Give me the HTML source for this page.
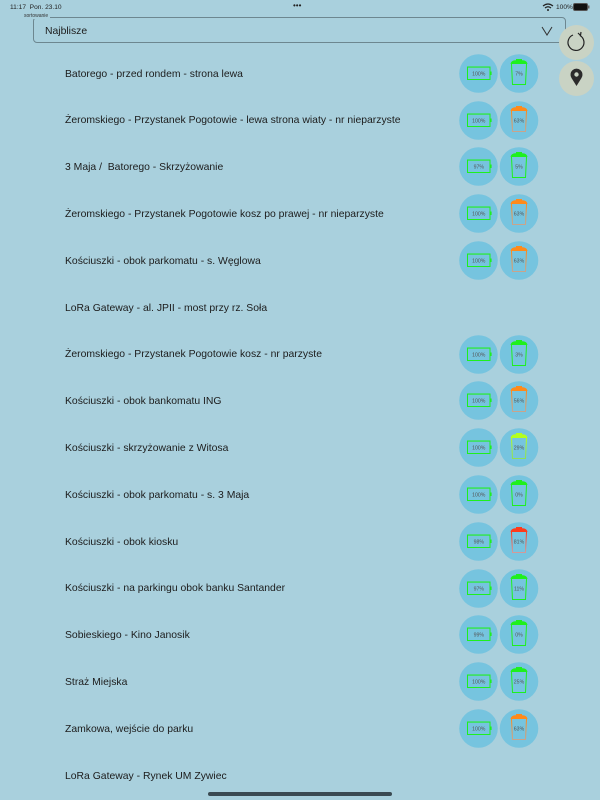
<!DOCTYPE html>
<html><head><meta charset="utf-8">
<style>
html,body{margin:0;padding:0}
body{width:600px;height:800px;background:#a9d0dd;position:relative;overflow:hidden;font-family:"Liberation Sans","DejaVu Sans",sans-serif;color:#1c1c1c}
.st{position:absolute;top:3.5px;font-size:6.6px;color:#222}
.row{position:absolute;left:65px;font-size:10.4px;line-height:12px;white-space:nowrap}
.dd{position:absolute;left:33px;top:17px;width:533px;height:26px;border:1px solid #6d8790;border-radius:4px;box-sizing:border-box}
.lbl{position:absolute;left:22px;top:12.5px;font-size:5px;color:#333;background:#a9d0dd;padding:0 2px}
.btn{position:absolute;width:35px;height:35px;border-radius:50%;background:#c9d3c4}
.home{position:absolute;left:208px;top:792px;width:184px;height:4px;border-radius:2px;background:#3a4a52}
svg{position:absolute}
</style></head><body>
<div class="st" style="left:10px">11:17&nbsp;&nbsp;Pon. 23.10</div>
<div class="st" style="left:293px;font-size:8px;top:1px;letter-spacing:0px">•••</div>
<div class="st" style="left:556px">100%</div>
<svg style="left:542px;top:3px" width="12" height="8" viewBox="0 0 12 8"><path d="M1 3 Q6 -1 11 3" stroke="#222" stroke-width="1.2" fill="none"/><path d="M3 5 Q6 2.5 9 5" stroke="#222" stroke-width="1.2" fill="none"/><circle cx="6" cy="7" r="1" fill="#222"/></svg>
<svg style="left:573px;top:3px" width="18" height="8" viewBox="0 0 18 8"><rect x="0.5" y="0.5" width="14" height="7" rx="1.5" fill="#111" stroke="#555"/><rect x="15" y="2.5" width="1.5" height="3" fill="#666"/></svg>

<div class="dd"></div>
<div class="lbl">sortowanie</div>
<div class="row" style="left:45px;top:25.5px">Najblisze</div>
<svg style="left:541px;top:26px" width="12" height="10" viewBox="0 0 12 10"><path d="M1 1 L6 9 L11 1" stroke="#333" stroke-width="1" fill="none"/></svg>

<div class="btn" style="left:559px;top:25px"></div>
<svg style="left:559px;top:25px" width="35" height="35" viewBox="0 0 35 35"><path d="M21 10.5 A8 8 0 1 1 14 10" stroke="#222" stroke-width="1.2" fill="none"/><path d="M19 8 L21.5 10.5 L22 7" stroke="#222" stroke-width="1.2" fill="none"/></svg>
<div class="btn" style="left:559px;top:61px"></div>
<svg style="left:559px;top:61px" width="35" height="35" viewBox="0 0 35 35"><path d="M17.5 25 L12.5 17 A6 6 0 1 1 22.5 17 Z" fill="#2b2b2b"/><circle cx="17.5" cy="13.5" r="2.2" fill="#c9d3c4"/></svg>

<div id="list"></div>
<div class="home"></div>

<script>
var data=[
["Batorego - przed rondem - strona lewa","100%","7%","g"],
["Żeromskiego - Przystanek Pogotowie - lewa strona wiaty - nr nieparzyste","100%","63%","o"],
["3 Maja /&nbsp; Batorego - Skrzyżowanie","97%","5%","g"],
["Żeromskiego - Przystanek Pogotowie kosz po prawej - nr nieparzyste","100%","63%","o"],
["Kościuszki - obok parkomatu - s. Węglowa","100%","63%","o"],
["LoRa Gateway - al. JPII - most przy rz. Soła","","",""],
["Żeromskiego - Przystanek Pogotowie kosz - nr parzyste","100%","3%","g"],
["Kościuszki - obok bankomatu ING","100%","56%","o"],
["Kościuszki - skrzyżowanie z Witosa","100%","29%","y"],
["Kościuszki - obok parkomatu - s. 3 Maja","100%","0%","g"],
["Kościuszki - obok kiosku","98%","81%","r"],
["Kościuszki - na parkingu obok banku Santander","97%","11%","g"],
["Sobieskiego - Kino Janosik","99%","0%","g"],
["Straż Miejska","100%","25%","g"],
["Zamkowa, wejście do parku","100%","63%","o"],
["LoRa Gateway - Rynek UM Zywiec","","",""]
];
var col={g:["#1ef01e","#1ef01e"],o:["#ff8a1a","#c9a48c"],y:["#b4ff1e","#8ee05a"],r:["#ff3a1a","#d49a9a"]};
var h="";
for(var i=0;i<data.length;i++){
 var d=data[i];var cy=73.3+i*46.8;
 h+='<div class="row" style="top:'+(cy-4.8).toFixed(1)+'px">'+d[0]+'</div>';
 if(d[1]){
  var c=col[d[3]];
  h+='<svg style="left:459px;top:'+(cy-19.5).toFixed(1)+'px" width="82" height="39" viewBox="0 0 82 39">'+
  '<defs><linearGradient id="gr'+i+'" x1="0" y1="0" x2="0" y2="1"><stop offset="0" stop-color="'+c[0]+'"/><stop offset="1" stop-color="'+c[1]+'"/></linearGradient></defs>'+
  '<circle cx="19.5" cy="19.5" r="19.3" fill="#76c4df"/>'+
  '<circle cx="60" cy="19.5" r="19.3" fill="#76c4df"/>'+
  '<rect x="8.5" y="13" width="22.5" height="12.5" fill="none" stroke="#1ef01e" stroke-width="1"/>'+
  '<rect x="8.5" y="12.6" width="22.5" height="1" fill="#1ef01e"/>'+
  '<rect x="31" y="17.5" width="1.6" height="3.5" fill="#1ef01e"/>'+
  '<text x="19.8" y="21.3" font-size="5.2" text-anchor="middle" fill="#555" font-family="Liberation Sans,sans-serif">'+d[1]+'</text>'+
  '<path d="M51.5 10 Q52 6.5 56 6.2 L64 6.2 Q68 6.5 68.5 10 Z" fill="'+c[0]+'"/>'+
  '<rect x="57" y="5" width="6" height="1.5" fill="'+c[0]+'"/>'+
  '<path d="M52.5 10 L53.5 30.5 L66.5 30.5 L67.5 10" fill="none" stroke="url(#gr'+i+')" stroke-width="1"/>'+
  '<text x="60" y="21.3" font-size="5.2" text-anchor="middle" fill="#555" font-family="Liberation Sans,sans-serif">'+d[2]+'</text>'+
  '</svg>';
 }
}
document.getElementById("list").innerHTML=h;
</script>
</body></html>
